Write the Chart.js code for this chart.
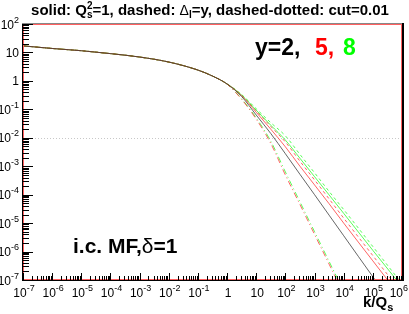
<!DOCTYPE html>
<html><head><meta charset="utf-8">
<script src="https://cdn.jsdelivr.net/npm/chart.js@4.4.0/dist/chart.umd.min.js"></script>
<style>html,body{margin:0;padding:0;background:#fff;overflow:hidden}canvas{display:block}</style>
</head><body><canvas id="c" width="409" height="314"></canvas>
<script>
// k/Qs sample points
const kValues = [1e-7,1e-6,1e-5,1e-4,1e-3,1e-2,0.1,0.316,1,3.16,10,31.6,100,316,1000,3160,1e4,1e5,1e6];
// solid: Qs^2=1
const y2Solid = [17,13.8,11.5,9.1,6.9,4.6,2.4,1.48,0.78,0.282,0.063,0.0141,0.00275,5.2e-4,1.0e-4,1.9e-5,3.6e-6,1.3e-7,5e-9];
const y5Solid = [17,13.8,11.5,9.1,6.9,4.6,2.4,1.48,0.78,0.30,0.079,0.020,0.0048,1.0e-3,2.2e-4,4.8e-5,1.0e-5,4.7e-7,2.2e-8];
const y8Solid = [17,13.8,11.5,9.1,6.9,4.6,2.4,1.48,0.78,0.316,0.093,0.0275,0.0083,1.9e-3,4.3e-4,9.8e-5,2.2e-5,1.1e-6,5.8e-8];
// dashed: Delta_l = y
const y5Dashed = [17,13.8,11.5,9.1,6.9,4.6,2.4,1.48,0.78,0.316,0.089,0.025,0.0071,1.5e-3,3.3e-4,7.1e-5,1.5e-5,7.2e-7,3.4e-8];
const y8Dashed = [17,13.8,11.5,9.1,6.9,4.6,2.4,1.48,0.79,0.33,0.105,0.034,0.0117,2.6e-3,5.9e-4,1.3e-4,3.0e-5,1.5e-6,7.4e-8];
// dashed-dotted: cut = 0.01
const y5Cut = [17,13.8,11.5,9.1,6.9,4.6,2.4,1.48,0.77,0.224,0.045,0.0063,4.9e-4,4.5e-5,4.0e-6,3.6e-7,3.2e-8,2.5e-10,2e-12];
const y8Cut = [17,13.8,11.5,9.1,6.9,4.6,2.4,1.48,0.77,0.234,0.050,0.0076,6.3e-4,5.6e-5,5.0e-6,4.5e-7,4.0e-8,3e-10,3e-12];

const xTickValues = [1e-7,1e-6,1e-5,1e-4,1e-3,1e-2,1e-1,1,10,1e2,1e3,1e4,1e5,1e6];
const xTickLabels = [["10","-7"],["10","-6"],["10","-5"],["10","-4"],["10","-3"],["10","-2"],["10","-1"],["1",""],["10",""],["10","2"],["10","3"],["10","4"],["10","5"],["10","6"]];
const yTickValues = [1e2,10,1,1e-1,1e-2,1e-3,1e-4,1e-5,1e-6,1e-7];
const yTickLabels = [["10","2"],["10",""],["1",""],["10","-1"],["10","-2"],["10","-3"],["10","-4"],["10","-5"],["10","-6"],["10","-7"]];

const FONT = '"Liberation Sans", Arial, Helvetica, sans-serif';
const pts = arr => kValues.map((k,i)=>({x:k,y:arr[i]}));
function ds(arr,color,dash){return {data:pts(arr),borderColor:color,borderWidth:0.75,borderDash:dash||[],pointRadius:0,fill:false,cubicInterpolationMode:'monotone'};}

function measureParts(ctx, parts){
  const widths = parts.map(p=>{ctx.font=p.f;return ctx.measureText(p.t).width;});
  let w=0;
  for(let i=0;i<parts.length;i++){ if(parts[i].stack){ w+=Math.max(widths[i],widths[i+1]); i++; } else w+=widths[i]; }
  return {w,widths};
}
function drawParts(ctx, parts, x, y, align, maxRight){
  const {w,widths}=measureParts(ctx,parts);
  let cx = align==='right'? x-w : align==='center'? x-w/2 : x;
  if(maxRight!==undefined && cx+w>maxRight) cx=maxRight-w;
  ctx.textAlign='left'; ctx.textBaseline='alphabetic';
  for(let i=0;i<parts.length;i++){
    const p=parts[i];
    ctx.font=p.f; ctx.fillStyle=p.c||'#000';
    ctx.fillText(p.t,cx,y+(p.dy||0));
    if(p.stack){ const q=parts[i+1]; ctx.font=q.f; ctx.fillStyle=q.c||'#000'; ctx.fillText(q.t,cx,y+(q.dy||0)); cx+=Math.max(widths[i],widths[i+1]); i++; }
    else cx+=widths[i];
  }
}

const rootStyle = {
  id:'rootStyle',
  beforeDraw(chart){const c=chart.ctx;c.save();c.fillStyle='#fff';c.fillRect(0,0,chart.width,chart.height);c.restore();},
  beforeDatasetsDraw(chart){
    const c=chart.ctx, a=chart.chartArea, ys=chart.scales.y;
    c.save(); c.strokeStyle='#c8c8c8'; c.lineWidth=1; c.setLineDash([1,2]);
    const py=Math.round(ys.getPixelForValue(1e-2))+0.5;
    c.beginPath(); c.moveTo(a.left,py); c.lineTo(a.right,py); c.stroke(); c.restore();
  },
  afterDatasetsDraw(chart){
    const c=chart.ctx, a=chart.chartArea, xs=chart.scales.x, ys=chart.scales.y;
    c.save();
    // frame
    c.strokeStyle='#ff6060'; c.lineWidth=1;
    c.strokeRect(a.left+0.5,a.top+0.5,a.right-a.left-1,a.bottom-a.top-1);
    c.fillStyle='#888'; c.fillRect(a.left-1,a.top-1,a.right-a.left+2,1);
    c.fillStyle='#000';
    c.fillRect(a.right,a.top-1,2,a.bottom-a.top+2);
    c.fillRect(a.left-1,a.top,1,a.bottom-a.top+1);
    c.fillRect(a.left-1,a.bottom,a.right-a.left+2,1);
    // ticks
    c.strokeStyle='#000'; c.lineWidth=1; c.beginPath();
    for(let e=-7;e<=1;e++){
      for(let m=1;m<=9;m++){
        const v=m*Math.pow(10,e); const py=Math.round(ys.getPixelForValue(v))+0.5;
        if(py<a.top||py>a.bottom) continue;
        const len = m===1?10:6; c.moveTo(a.left,py); c.lineTo(a.left+len,py);
      }
    }
    {const py=Math.round(ys.getPixelForValue(100))+0.5; c.moveTo(a.left,py); c.lineTo(a.left+10,py);}
    for(let e=-7;e<=5;e++){
      for(let m=1;m<=9;m++){
        const v=m*Math.pow(10,e); const px=Math.round(xs.getPixelForValue(v))+0.5;
        const len = m===1?7:4; c.moveTo(px,a.bottom); c.lineTo(px,a.bottom-len);
      }
    }
    c.stroke();
    // tick labels
    const big='12px '+FONT, sup='9px '+FONT;
    yTickValues.forEach((v,i)=>{
      const py=ys.getPixelForValue(v); const L=yTickLabels[i];
      const parts=[{t:L[0],f:big}]; if(L[1]) parts.push({t:L[1],f:sup,dy:-6});
      drawParts(c,parts,19,py+4.5,'right');
    });
    xTickValues.forEach((v,i)=>{
      const px=xs.getPixelForValue(v); const L=xTickLabels[i];
      const parts=[{t:L[0],f:big}]; if(L[1]) parts.push({t:L[1],f:sup,dy:-6});
      drawParts(c,parts,px+1,297,'center',chart.width-1);
    });
    // axis title
    drawParts(c,[{t:'k/Q',f:'bold 15px '+FONT},{t:'s',f:'bold 11px '+FONT,dy:4}],363,307,'left');
    // title
    const tb='bold 15px '+FONT, ts='bold 10px '+FONT;
    drawParts(c,[
      {t:'solid: Q',f:tb},
      {t:'2',f:ts,dy:-6,stack:true},{t:'s',f:ts,dy:3},
      {t:'=1, dashed: ',f:tb},
      {t:'\u0394',f:'14px '+FONT},{t:'l',f:ts,dy:3},
      {t:'=y, dashed-dotted: cut=0.01',f:tb}
    ],210,15,'center');
    // annotations
    const fa='bold 23px '+FONT;
    c.font=fa; c.textAlign='left'; c.textBaseline='alphabetic';
    c.fillStyle='#000'; c.fillText('y=2,',255,55);
    c.fillStyle='#ff0000'; c.fillText('5,',315,55);
    c.fillStyle='#00ff00'; c.fillText('8',343,55);
    drawParts(c,[{t:'i.c. MF,',f:'bold 21px '+FONT},{t:'\u03b4',f:'21px '+FONT},{t:'=1',f:'bold 21px '+FONT}],73,253,'left');
    c.restore();
  }
};

new Chart(document.getElementById('c'),{
  type:'line',
  data:{datasets:[
    ds(y2Solid,'#333333'),
    ds(y5Solid,'#ff3030'),
    ds(y8Solid,'#20ff20'),
    ds(y5Dashed,'#ff3030',[3,3]),
    ds(y8Dashed,'#20ff20',[3,3]),
    ds(y5Cut,'#ff3030',[6,3,1,3]),
    ds(y8Cut,'#20ff20',[6,3,1,3])
  ]},
  options:{
    animation:false,responsive:false,devicePixelRatio:1,
    layout:{padding:{left:23,top:24,right:7,bottom:34}},
    plugins:{legend:{display:false},tooltip:{enabled:false},title:{display:false}},
    scales:{
      x:{type:'logarithmic',min:1e-7,max:1e6,display:false},
      y:{type:'logarithmic',min:1e-7,max:100,display:false}
    }
  },
  plugins:[rootStyle]
});
</script></body></html>
